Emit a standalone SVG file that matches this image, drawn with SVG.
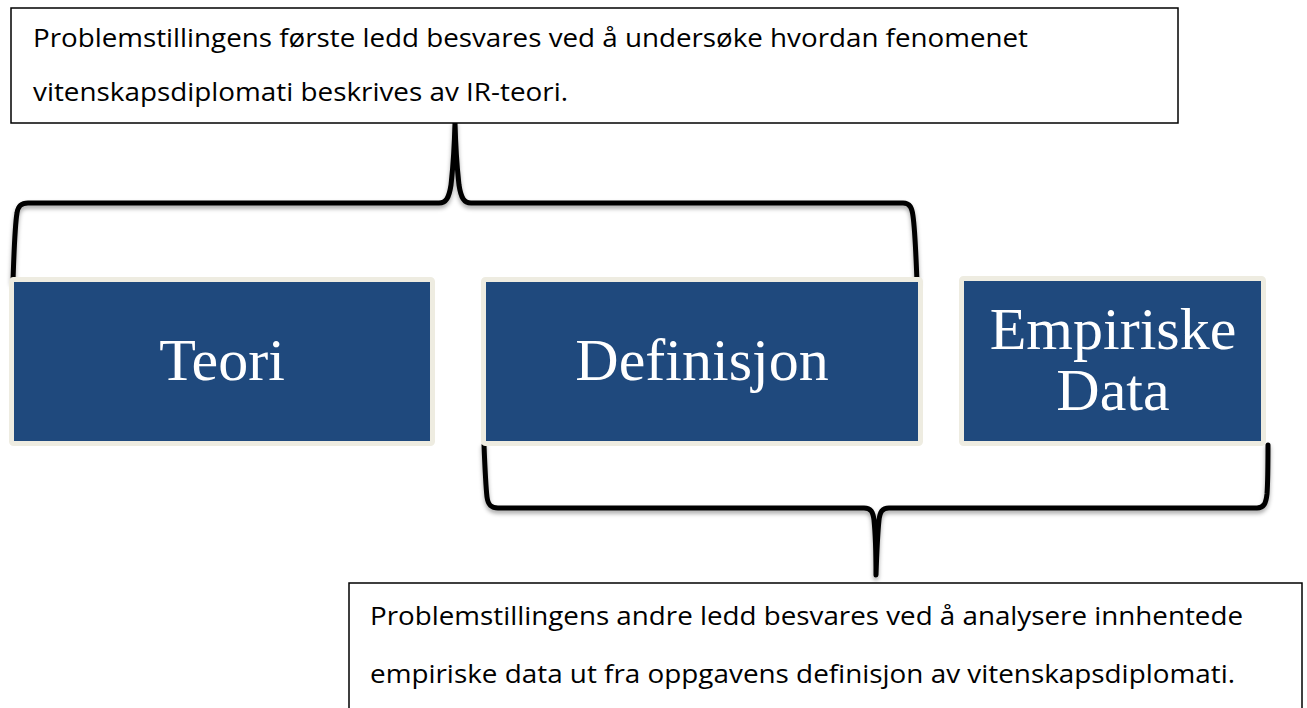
<svg xmlns="http://www.w3.org/2000/svg" width="1307" height="708" viewBox="0 0 1307 708">
  <style>
    .note { fill: #ffffff; stroke: #000000; stroke-width: 1.5; }
    .ntext { font-family: "Open Sans", "Noto Sans", "Liberation Sans", sans-serif; font-size: 25px; fill: #000000; }
    .block { fill: #1F497D; stroke: #EEECE1; stroke-width: 5; }
    .btext { font-family: "Liberation Serif", "DejaVu Serif", serif; font-size: 60px; fill: #ffffff; text-anchor: middle; }
    .brace { fill: none; stroke: #000000; stroke-width: 5; stroke-linecap: round; stroke-linejoin: round; }
  </style>
  <defs>
    <filter id="sh" x="-5%" y="-20%" width="110%" height="140%">
      <feDropShadow dx="0" dy="3" stdDeviation="2" flood-color="#000000" flood-opacity="0.35"/>
    </filter>
  </defs>
  <rect width="1307" height="708" fill="#ffffff"/>

  <g id="connectors">
    <path class="brace" filter="url(#sh)" d="M13,281 C14,250 15,225 17,213 C18,206 21,203 28,203 L439,203 C446,203 449,198 451,185 C452,175 454,160 455,123 C456,160 458,175 459,185 C461,198 464,203 471,203 L903,203 C910,203 912,208 913,216 C915,230 916,255 917,282"/>
    <path class="brace" filter="url(#sh)" d="M484,445 C485,470 486,488 487,497 C488,505 491,508 498,508 L864,508 C871,508 873,512 874,520 C875,530 876,545 876,575 C877,545 878,530 879,520 C880,512 882,508 889,508 L1257,508 C1264,508 1266,503 1267,494 C1268,480 1268,460 1268,445"/>
  </g>

  <g id="note-top">
    <rect class="note" x="11" y="8" width="1167" height="115"/>
    <text class="ntext" x="33" y="47" textLength="995" lengthAdjust="spacingAndGlyphs">Problemstillingens første ledd besvares ved å undersøke hvordan fenomenet</text>
    <text class="ntext" x="33" y="101" textLength="535" lengthAdjust="spacingAndGlyphs">vitenskapsdiplomati beskrives av IR-teori.</text>
  </g>

  <g id="teori">
    <rect class="block" x="11.5" y="279.5" width="421" height="164" rx="2"/>
    <text class="btext" x="222" y="380">Teori</text>
  </g>

  <g id="definisjon">
    <rect class="block" x="483.5" y="279.5" width="437" height="164" rx="2"/>
    <text class="btext" x="702" y="380">Definisjon</text>
  </g>

  <g id="empiriske-data">
    <rect class="block" x="961.5" y="278.5" width="302" height="165" rx="2"/>
    <text class="btext" x="1113" y="349">Empiriske</text>
    <text class="btext" x="1113" y="410">Data</text>
  </g>

  <g id="note-bottom">
    <rect class="note" x="349" y="583" width="953" height="140"/>
    <text class="ntext" x="370" y="625" textLength="873" lengthAdjust="spacingAndGlyphs">Problemstillingens andre ledd besvares ved å analysere innhentede</text>
    <text class="ntext" x="370" y="683" textLength="865" lengthAdjust="spacingAndGlyphs">empiriske data ut fra oppgavens definisjon av vitenskapsdiplomati.</text>
  </g>
</svg>
